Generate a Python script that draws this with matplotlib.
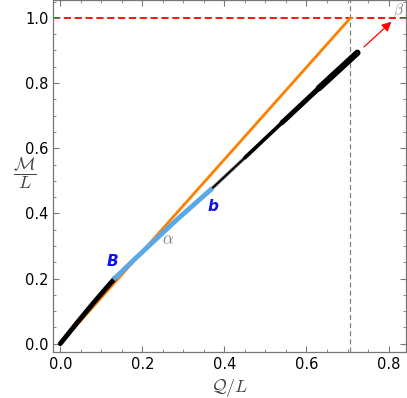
import matplotlib
matplotlib.use("Agg")
import matplotlib.pyplot as plt
from matplotlib.ticker import MultipleLocator

# data
orange_x = [0.0, 0.7071]
orange_y = [0.0, 1.0]

lower_x = [0.0, 0.04, 0.08, 0.11, 0.134]
lower_y = [0.0, 0.063, 0.124, 0.168, 0.202]

blue_x = [0.134, 0.18, 0.23, 0.28, 0.33, 0.366]
blue_y = [0.202, 0.258, 0.317, 0.376, 0.432, 0.472]

upper_x = [0.366, 0.45, 0.54, 0.63, 0.724]
upper_y = [0.472, 0.571, 0.678, 0.784, 0.893]

arrow_start = (0.735, 0.905)
arrow_end = (0.812, 0.994)
q_max = 0.7071
m_max = 1.0

plt.rcParams["mathtext.fontset"] = "cm"
fig = plt.figure(figsize=(4.07, 3.98), dpi=100)
ax = fig.add_axes([0.131, 0.116, 0.866, 0.884])

ax.axhline(m_max, color="red", ls=(0, (4, 2)), lw=1.3, zorder=1)
ax.axvline(q_max, color="gray", ls=(0, (4, 2.5)), lw=0.9, zorder=1)

ax.plot(orange_x, orange_y, color="#ff7f00", lw=2.0, zorder=2)
ax.plot(lower_x, lower_y, color="black", lw=3.5, solid_capstyle="round", zorder=3)
ax.plot(blue_x, blue_y, color="black", lw=1.0, zorder=3)
ax.plot(blue_x, blue_y, color="#5aa9e6", lw=3.5, zorder=4)

# upper branch grows thicker towards its end
ax.plot(upper_x, upper_y, color="#9a9a9a", lw=2.6, solid_capstyle="butt", zorder=3)
ax.plot(upper_x, upper_y, color="black", lw=1.4, solid_capstyle="butt", zorder=3)
ax.plot(upper_x[1:], upper_y[1:], color="black", lw=2.6, solid_capstyle="round", zorder=3)
ax.plot(upper_x[2:], upper_y[2:], color="black", lw=3.6, solid_capstyle="round", zorder=3)
ax.plot(upper_x[3:], upper_y[3:], color="black", lw=4.6, solid_capstyle="round", zorder=3)

ax.annotate("", xy=arrow_end, xytext=arrow_start,
            arrowprops=dict(arrowstyle="-|>", color="red", lw=0.9,
                            mutation_scale=14), zorder=5)

ax.text(0.128, 0.252, "B", color="#1010ee", fontsize=11, fontweight="bold",
        style="italic", ha="center", va="center")
ax.text(0.373, 0.42, "b", color="#1010ee", fontsize=11, fontweight="bold",
        style="italic", ha="center", va="center")
ax.text(0.262, 0.322, r"$\alpha$", color="gray", fontsize=12,
        ha="center", va="center")
ax.text(0.824, 1.022, r"$\beta$", color="gray", fontsize=11,
        ha="center", va="center")

ax.set_xlim(-0.017, 0.842)
ax.set_ylim(-0.025, 1.055)
ax.xaxis.set_major_locator(MultipleLocator(0.2))
ax.xaxis.set_minor_locator(MultipleLocator(0.05))
ax.yaxis.set_major_locator(MultipleLocator(0.2))
ax.yaxis.set_minor_locator(MultipleLocator(0.05))
ax.xaxis.set_major_formatter(plt.FuncFormatter(lambda v, p: f"{v:.1f}"))
ax.yaxis.set_major_formatter(plt.FuncFormatter(lambda v, p: f"{v:.1f}"))
ax.tick_params(which="both", direction="in", top=True, right=True,
               color="#777777", labelsize=10.5)
ax.tick_params(which="major", length=4, width=0.8)
ax.tick_params(which="minor", length=2, width=0.6)
for spine in ax.spines.values():
    spine.set_color("#777777")
    spine.set_linewidth(0.9)

ax.set_xlabel(r"$\mathcal{Q}/L$", fontsize=13, color="#444444", labelpad=4)
fig.text(0.062, 0.565, r"$\dfrac{\mathcal{M}}{L}$", fontsize=13,
         color="#444444", ha="center", va="center")

fig.savefig("out.png", dpi=100)
